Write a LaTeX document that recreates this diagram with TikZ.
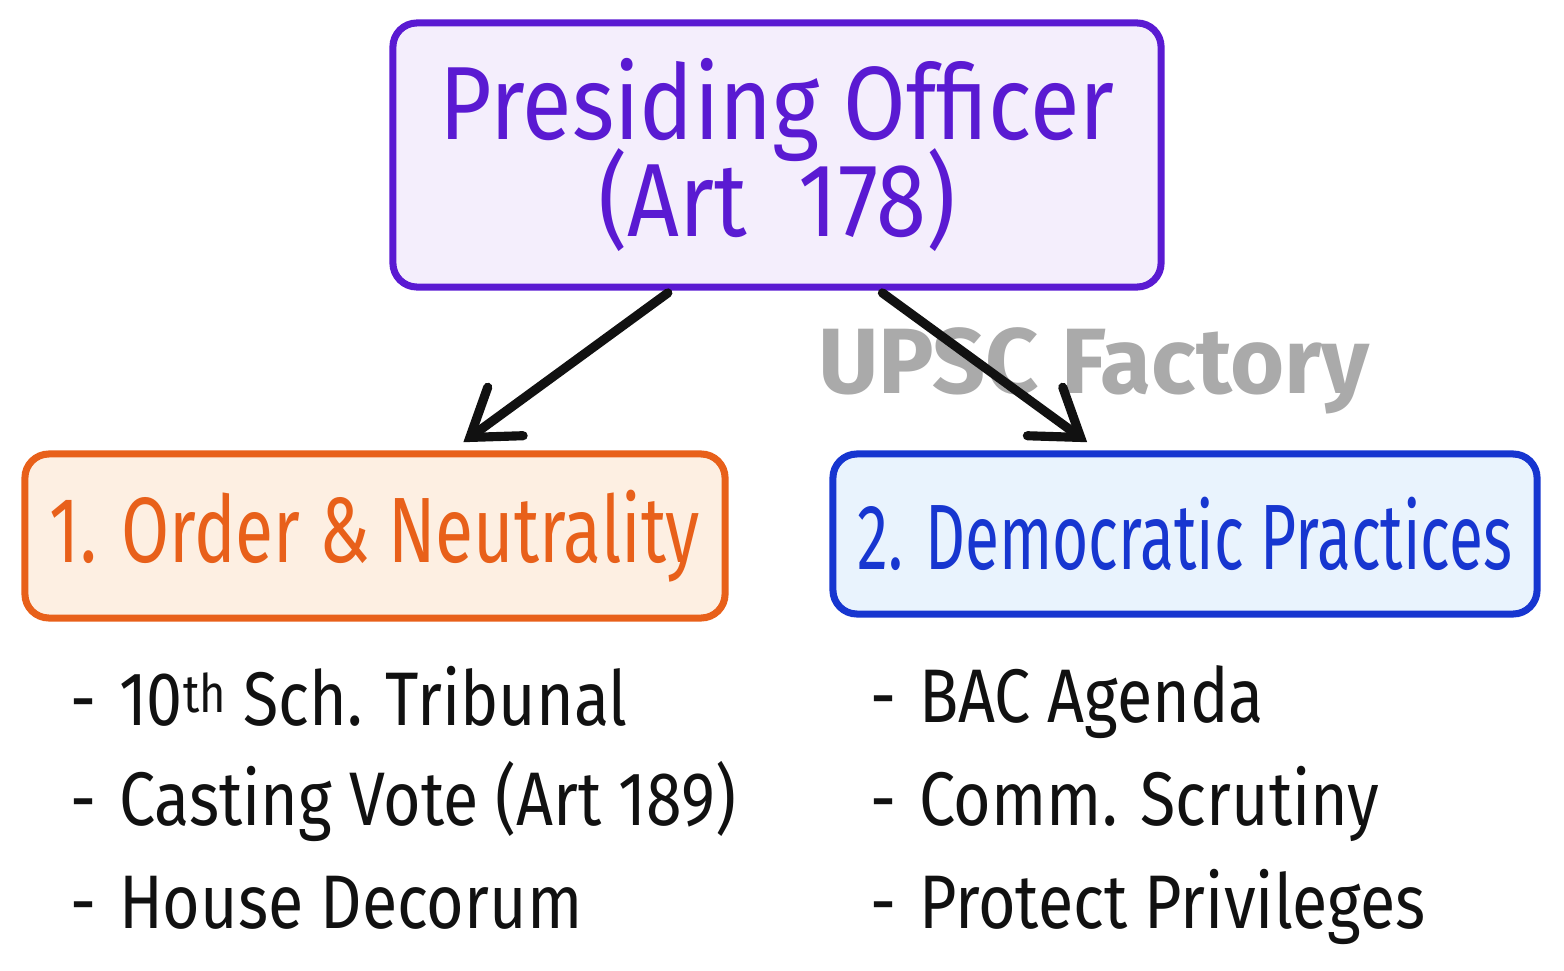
\documentclass[tikz,border=0pt]{standalone}
\usepackage{fontspec}
\setmainfont{Fira Sans}
\newfontfamily\titlehand[FakeStretch=0.87]{Fira Sans}
\newfontfamily\orderhand[FakeStretch=0.75]{Fira Sans}
\newfontfamily\demohand[FakeStretch=0.67]{Fira Sans}
\newfontfamily\itemhand[FakeStretch=0.85]{Fira Sans}
\newcommand\itemdash{-\hspace{0.3em}}
\usetikzlibrary{arrows.meta}
\definecolor{poline}{HTML}{5A1AD2}
\definecolor{pofill}{HTML}{F4EEFC}
\definecolor{online}{HTML}{E8601A}
\definecolor{onfill}{HTML}{FDEFE2}
\definecolor{dpline}{HTML}{1736D0}
\definecolor{dpfill}{HTML}{E9F3FD}
\definecolor{ink}{HTML}{111111}
\definecolor{wmgray}{HTML}{AAAAAA}
\tikzset{
  box/.style={draw, line width=5pt, rounded corners=0.6cm, align=center, inner sep=0pt},
  link/.style={draw=ink, line width=6.5pt, line cap=round,
    -{Straight Barb[length=1.1cm,width=1.5cm,line cap=round]}},
  item/.style={anchor=base west, inner sep=0pt, text=ink, font=\itemhand\fontsize{54}{60}\selectfont}
}
\begin{document}
\begin{tikzpicture}[x=0.025cm,y=-0.025cm]
\useasboundingbox (0,0) rectangle (1564,971);
\node[box, draw=poline, fill=pofill, text=poline, minimum width=19.2cm, minimum height=6.6cm,
  font=\titlehand\fontsize{74}{70}\selectfont] (top) at (777,155)
  {Presiding Officer\\[-10pt](Art\hspace{0.5em}178)};
\node[box, draw=online, fill=onfill, text=online, minimum width=17.5cm, minimum height=4.1cm,
  font=\orderhand\fontsize{66}{70}\selectfont] (order) at (375,536) {1. Order \& Neutrality};
\node[box, draw=dpline, fill=dpfill, text=dpline, minimum width=17.6cm, minimum height=4cm,
  font=\demohand\fontsize{66}{70}\selectfont] (demo) at (1185,534) {2. Democratic Practices};
\node[anchor=base west, inner sep=0pt, text=wmgray, font=\bfseries\fontsize{66}{66}\selectfont]
  (wm) at (818,393) {UPSC Factory};
\draw[link, shorten <=0.1cm, shorten >=0.35cm] (top.232) -- (order.48);
\draw[link, shorten <=0.1cm, shorten >=0.35cm] (top.-53) -- (demo.136);
\node[item] (o1) at (70,725) {\itemdash 10\textsuperscript{th} Sch. Tribunal};
\node[item] (o2) at (70,825) {\itemdash Casting Vote (Art 189)};
\node[item] (o3) at (70,928) {\itemdash House Decorum};
\node[item] (d1) at (870,722) {\itemdash BAC Agenda};
\node[item] (d2) at (870,825) {\itemdash Comm. Scrutiny};
\node[item] (d3) at (870,928) {\itemdash Protect Privileges};
\end{tikzpicture}
\end{document}
